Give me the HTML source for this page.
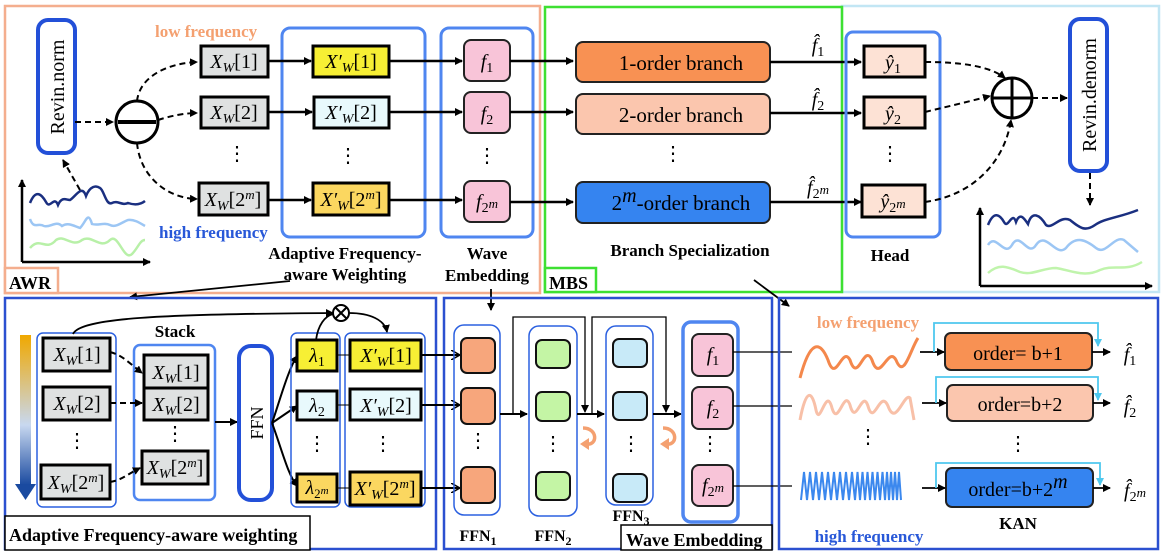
<!DOCTYPE html>
<html><head><meta charset="utf-8"><style>
html,body{margin:0;padding:0;background:#fff}
svg{display:block}
text{font-family:"Liberation Serif",serif}
.m{font-style:italic;font-size:20px}
.b{font-weight:bold}
</style></head><body>
<svg width="1163" height="554" viewBox="0 0 1163 554" xmlns="http://www.w3.org/2000/svg">
<defs>
<marker id="a" markerWidth="8" markerHeight="8" refX="7" refY="4" orient="auto" markerUnits="userSpaceOnUse"><path d="M0,0 L8,4 L0,8 Z" fill="#000"/></marker>
<marker id="ac" markerWidth="8" markerHeight="8" refX="7" refY="4" orient="auto" markerUnits="userSpaceOnUse"><path d="M0,0 L8,4 L0,8 Z" fill="#4fc8ee"/></marker>
<marker id="ao" markerWidth="10" markerHeight="10" refX="8" refY="5" orient="auto" markerUnits="userSpaceOnUse"><path d="M0,0 L9,5 L0,10" fill="none" stroke="#000" stroke-width="1.5"/></marker>
<linearGradient id="g" x1="0" y1="0" x2="0" y2="1"><stop offset="0" stop-color="#f0a800"/><stop offset="0.6" stop-color="#c8d8f0"/><stop offset="1" stop-color="#1a4aa0"/></linearGradient>
</defs>

<rect x="5" y="6" width="535" height="287" fill="none" stroke="#f4ae8e" stroke-width="2.5"/>
<rect x="5" y="268" width="53" height="25" fill="#fff" stroke="#f4ae8e" stroke-width="2.5"/>
<text x="9" y="289" class="b" font-size="18">AWR</text>
<rect x="842" y="6" width="317" height="286" fill="none" stroke="#c2e6f4" stroke-width="2.5"/>
<rect x="545" y="7" width="297" height="285" fill="none" stroke="#3ee032" stroke-width="2.5"/>
<rect x="545" y="268" width="51" height="24" fill="#fff" stroke="#3ee032" stroke-width="2.5"/>
<text x="549" y="289" class="b" font-size="18">MBS</text>

<rect x="38" y="20" width="37" height="133" rx="10" fill="#fff" stroke="#2350d8" stroke-width="4"/>
<text transform="translate(64,87) rotate(-90)" text-anchor="middle" font-size="20">Revin.norm</text>
<line x1="22" y1="262" x2="22" y2="180" stroke="#000" stroke-width="2.5" marker-end="url(#a)"/>
<line x1="22" y1="262" x2="150" y2="262" stroke="#000" stroke-width="2.5" marker-end="url(#a)"/>
<path d="M30,203 C36,188 42,195 46,202 C50,210 54,195 58,205 C62,196 66,200 70,200 C76,196 82,184 86,196 C90,186 96,185 100,188 C104,190 106,206 112,203 C118,200 122,206 128,203 C134,205 140,205 145,201" fill="none" stroke="#1a2f80" stroke-width="2.5"/>
<path d="M30,219 C34,230 38,222 44,226 C50,228 56,220 62,226 C68,222 74,226 80,228 C86,222 88,210 92,224 C98,226 104,222 110,225 C116,228 122,222 128,220 C134,219 140,223 145,226" fill="none" stroke="#9cc6f4" stroke-width="2.5"/>
<path d="M30,248 C40,236 46,252 56,240 C64,234 72,248 82,240 C92,234 100,250 110,240 C118,232 124,262 132,254 C138,248 140,240 145,240" fill="none" stroke="#b8f0a8" stroke-width="2.5"/>
<line x1="80" y1="190" x2="63" y2="160" stroke="#000" stroke-width="2" stroke-dasharray="6,4" marker-end="url(#a)"/>
<line x1="75" y1="122" x2="113" y2="122" stroke="#000" stroke-width="2" stroke-dasharray="6,4" marker-end="url(#a)"/>
<circle cx="137" cy="122" r="21" fill="#fff" stroke="#000" stroke-width="3"/>
<line x1="118" y1="122" x2="156" y2="122" stroke="#000" stroke-width="4"/>
<path d="M137,101 C140,75 170,63 197,62" fill="none" stroke="#000" stroke-width="2" stroke-dasharray="6,4" marker-end="url(#a)"/>
<path d="M158,120 C170,116 185,113 197,113" fill="none" stroke="#000" stroke-width="2" stroke-dasharray="6,4" marker-end="url(#a)"/>
<path d="M137,143 C140,175 165,198 197,199" fill="none" stroke="#000" stroke-width="2" stroke-dasharray="6,4" marker-end="url(#a)"/>
<text x="155" y="37" class="b" font-size="17" fill="#f4a070">low frequency</text>
<text x="159" y="238" class="b" font-size="17" fill="#2858d8">high frequency</text>

<g stroke="#000" stroke-width="3" fill="#dfe1e1">
<rect x="201" y="46" width="67" height="31"/>
<rect x="201" y="97" width="67" height="31"/>
<rect x="199" y="183" width="69" height="32"/>
</g>
<text x="234" y="68" text-anchor="middle" class="m"><tspan>X</tspan><tspan font-size="14" dy="4">W</tspan><tspan dy="-4" font-style="normal">[1]</tspan></text>
<text x="234" y="119" text-anchor="middle" class="m"><tspan>X</tspan><tspan font-size="14" dy="4">W</tspan><tspan dy="-4" font-style="normal">[2]</tspan></text>
<text x="233" y="206" text-anchor="middle" class="m"><tspan>X</tspan><tspan font-size="14" dy="4">W</tspan><tspan dy="-4" font-style="normal">[2</tspan><tspan font-size="13" dy="-7">m</tspan><tspan dy="7" font-style="normal">]</tspan></text>
<text x="237" y="160" text-anchor="middle" font-size="20">⋮</text>

<rect x="282" y="28" width="143" height="209" rx="8" fill="none" stroke="#4f86f0" stroke-width="3"/>
<g stroke="#000" stroke-width="3">
<rect x="313" y="46" width="76" height="31" fill="#f7ef34"/>
<rect x="314" y="97" width="75" height="31" fill="#e8f9fc"/>
<rect x="313" y="183" width="76" height="32" fill="#fbd760"/>
</g>
<text x="351" y="68" text-anchor="middle" class="m"><tspan>X′</tspan><tspan font-size="14" dy="4">W</tspan><tspan dy="-4" font-style="normal">[1]</tspan></text>
<text x="351" y="119" text-anchor="middle" class="m"><tspan>X′</tspan><tspan font-size="14" dy="4">W</tspan><tspan dy="-4" font-style="normal">[2]</tspan></text>
<text x="351" y="206" text-anchor="middle" class="m"><tspan>X′</tspan><tspan font-size="14" dy="4">W</tspan><tspan dy="-4" font-style="normal">[2</tspan><tspan font-size="13" dy="-7">m</tspan><tspan dy="7" font-style="normal">]</tspan></text>
<text x="348" y="162" text-anchor="middle" font-size="20">⋮</text>
<g stroke="#000" stroke-width="2.5" marker-end="url(#a)">
<line x1="268" y1="61" x2="311" y2="61"/>
<line x1="268" y1="112" x2="312" y2="112"/>
<line x1="268" y1="200" x2="311" y2="200"/>
</g>

<rect x="441" y="28" width="92" height="209" rx="8" fill="none" stroke="#4f86f0" stroke-width="3"/>
<g stroke="#222" stroke-width="2" fill="#f8c4d8">
<rect x="464" y="40" width="46" height="41" rx="7"/>
<rect x="464" y="92" width="46" height="41" rx="7"/>
<rect x="464" y="181" width="46" height="41" rx="7"/>
</g>
<text x="487" y="68" text-anchor="middle" class="m" font-size="22">f<tspan font-size="14" dy="4" font-style="normal">1</tspan></text>
<text x="487" y="120" text-anchor="middle" class="m" font-size="22">f<tspan font-size="14" dy="4" font-style="normal">2</tspan></text>
<text x="487" y="208" text-anchor="middle" class="m" font-size="22">f<tspan font-size="14" dy="4" font-style="normal">2</tspan><tspan font-size="13" dy="-4">m</tspan></text>
<text x="487" y="162" text-anchor="middle" font-size="20">⋮</text>
<g stroke="#000" stroke-width="2.5" marker-end="url(#a)">
<line x1="389" y1="61" x2="462" y2="61"/>
<line x1="389" y1="112" x2="462" y2="112"/>
<line x1="389" y1="200" x2="462" y2="200"/>
<line x1="510" y1="61" x2="573" y2="61"/>
<line x1="510" y1="112" x2="573" y2="112"/>
<line x1="510" y1="202" x2="573" y2="202"/>
</g>
<text x="345" y="259" text-anchor="middle" class="b" font-size="17">Adaptive Frequency-</text>
<text x="345" y="280" text-anchor="middle" class="b" font-size="17">aware Weighting</text>
<text x="487" y="259" text-anchor="middle" class="b" font-size="17">Wave</text>
<text x="487" y="281" text-anchor="middle" class="b" font-size="17">Embedding</text>

<g stroke="#222" stroke-width="2">
<rect x="576" y="42" width="194" height="40" rx="7" fill="#f89153"/>
<rect x="576" y="94" width="194" height="40" rx="7" fill="#fbc6ae"/>
<rect x="576" y="182" width="194" height="41" rx="7" fill="#3584f0"/>
</g>
<text x="681" y="70" text-anchor="middle" font-size="21">1-order branch</text>
<text x="681" y="122" text-anchor="middle" font-size="21">2-order branch</text>
<text x="681" y="210" text-anchor="middle" font-size="21">2<tspan class="m" font-size="15" dy="-8">m</tspan><tspan dy="8">-order branch</tspan></text>
<text x="673" y="160" text-anchor="middle" font-size="20">⋮</text>
<text x="818" y="52" text-anchor="middle" class="m" font-size="22">f̂<tspan font-size="14" dy="4" font-style="normal">1</tspan></text>
<text x="818" y="106" text-anchor="middle" class="m" font-size="22">f̂<tspan font-size="14" dy="4" font-style="normal">2</tspan></text>
<text x="818" y="194" text-anchor="middle" class="m" font-size="22">f̂<tspan font-size="14" dy="4" font-style="normal">2</tspan><tspan font-size="13" dy="-4">m</tspan></text>
<text x="690" y="256" text-anchor="middle" class="b" font-size="17">Branch Specialization</text>
<g stroke="#000" stroke-width="2.5" marker-end="url(#a)">
<line x1="770" y1="62" x2="861" y2="62"/>
<line x1="770" y1="113" x2="861" y2="113"/>
<line x1="770" y1="202" x2="861" y2="202"/>
</g>
<rect x="846" y="32" width="94" height="205" rx="7" fill="none" stroke="#4f86f0" stroke-width="3"/>
<g stroke="#000" stroke-width="3" fill="#fde2d5">
<rect x="864" y="46" width="61" height="31"/>
<rect x="864" y="97" width="61" height="31"/>
<rect x="862" y="185" width="63" height="32"/>
</g>
<text x="893" y="69" text-anchor="middle" class="m">ŷ<tspan font-size="14" dy="4" font-style="normal">1</tspan></text>
<text x="893" y="120" text-anchor="middle" class="m">ŷ<tspan font-size="14" dy="4" font-style="normal">2</tspan></text>
<text x="893" y="208" text-anchor="middle" class="m">ŷ<tspan font-size="14" dy="4" font-style="normal">2</tspan><tspan font-size="13" dy="-4">m</tspan></text>
<text x="890" y="160" text-anchor="middle" font-size="20">⋮</text>
<text x="890" y="261" text-anchor="middle" class="b" font-size="17">Head</text>
<circle cx="1012" cy="98" r="20" fill="#fff" stroke="#000" stroke-width="3"/>
<line x1="992" y1="98" x2="1032" y2="98" stroke="#000" stroke-width="3"/>
<line x1="1012" y1="78" x2="1012" y2="118" stroke="#000" stroke-width="3"/>
<path d="M925,62 C960,62 990,66 1005,78" fill="none" stroke="#000" stroke-width="2" stroke-dasharray="6,4" marker-end="url(#a)"/>
<path d="M925,112 C950,106 975,100 990,96" fill="none" stroke="#000" stroke-width="2" stroke-dasharray="6,4" marker-end="url(#a)"/>
<path d="M925,202 C975,195 1005,160 1011,120" fill="none" stroke="#000" stroke-width="2" stroke-dasharray="6,4" marker-end="url(#a)"/>
<line x1="1032" y1="98" x2="1067" y2="98" stroke="#000" stroke-width="2" stroke-dasharray="6,4" marker-end="url(#a)"/>
<rect x="1070" y="19" width="37" height="152" rx="10" fill="#fff" stroke="#2350d8" stroke-width="4"/>
<text transform="translate(1096,95) rotate(-90)" text-anchor="middle" font-size="20">Revin.denorm</text>
<line x1="1090" y1="173" x2="1090" y2="205" stroke="#000" stroke-width="2" stroke-dasharray="6,4" marker-end="url(#a)"/>
<line x1="980" y1="286" x2="980" y2="208" stroke="#000" stroke-width="2.5" marker-end="url(#a)"/>
<line x1="980" y1="286" x2="1152" y2="286" stroke="#000" stroke-width="2.5" marker-end="url(#a)"/>
<path d="M988,225 C994,210 1000,215 1004,222 C1008,230 1012,210 1016,222 C1020,212 1024,218 1028,224 C1032,210 1040,215 1046,225 C1052,230 1060,215 1070,220 C1080,228 1085,232 1095,225 C1105,218 1118,218 1138,210" fill="none" stroke="#1a2f80" stroke-width="2.5"/>
<path d="M988,245 C996,232 1004,258 1012,245 C1020,230 1028,258 1036,245 C1046,230 1056,258 1066,248 C1076,235 1086,240 1096,248 C1106,256 1114,235 1124,240 L1138,252" fill="none" stroke="#9cc6f4" stroke-width="2.5"/>
<path d="M988,273 C1000,262 1010,268 1020,272 C1032,276 1042,268 1056,268 C1070,270 1084,278 1100,270 C1114,264 1126,272 1142,262" fill="none" stroke="#c0f4ac" stroke-width="2.5"/>

<line x1="290" y1="281" x2="130" y2="297" stroke="#000" stroke-width="1.8" marker-end="url(#a)"/>
<line x1="491" y1="289" x2="491" y2="310" stroke="#000" stroke-width="1.8" marker-end="url(#a)"/>
<line x1="754" y1="280" x2="789" y2="306" stroke="#000" stroke-width="1.8" marker-end="url(#a)"/>

<rect x="5" y="298" width="431" height="251" fill="none" stroke="#2b50d0" stroke-width="2.5"/>
<rect x="5" y="516" width="305" height="34" fill="#fff" stroke="#000" stroke-width="1.5"/>
<text x="9" y="541" class="b" font-size="18">Adaptive Frequency-aware weighting</text>
<rect x="20" y="335" width="11" height="150" fill="url(#g)"/>
<path d="M15,484 L36,484 L25.5,500 Z" fill="#1a4aa0"/>
<rect x="37" y="333" width="79" height="174" rx="6" fill="none" stroke="#2b60e0" stroke-width="1.5"/>
<g stroke="#000" stroke-width="3" fill="#dfe1e1">
<rect x="43" y="338" width="67" height="33"/>
<rect x="43" y="387" width="67" height="33"/>
<rect x="41" y="465" width="69" height="34"/>
</g>
<text x="77" y="361" text-anchor="middle" class="m"><tspan>X</tspan><tspan font-size="14" dy="4">W</tspan><tspan dy="-4" font-style="normal">[1]</tspan></text>
<text x="77" y="410" text-anchor="middle" class="m"><tspan>X</tspan><tspan font-size="14" dy="4">W</tspan><tspan dy="-4" font-style="normal">[2]</tspan></text>
<text x="76" y="489" text-anchor="middle" class="m"><tspan>X</tspan><tspan font-size="14" dy="4">W</tspan><tspan dy="-4" font-style="normal">[2</tspan><tspan font-size="13" dy="-7">m</tspan><tspan dy="7" font-style="normal">]</tspan></text>
<text x="77" y="447" text-anchor="middle" font-size="20">⋮</text>
<text x="175" y="337" text-anchor="middle" class="b" font-size="17">Stack</text>
<rect x="134" y="345" width="81" height="155" rx="6" fill="none" stroke="#4f86f0" stroke-width="2.5"/>
<g stroke="#000" stroke-width="3" fill="#dfe1e1">
<rect x="144" y="355" width="64" height="33"/>
<rect x="144" y="388" width="64" height="32"/>
<rect x="142" y="451" width="66" height="33"/>
</g>
<text x="176" y="379" text-anchor="middle" class="m"><tspan>X</tspan><tspan font-size="14" dy="4">W</tspan><tspan dy="-4" font-style="normal">[1]</tspan></text>
<text x="176" y="411" text-anchor="middle" class="m"><tspan>X</tspan><tspan font-size="14" dy="4">W</tspan><tspan dy="-4" font-style="normal">[2]</tspan></text>
<text x="175" y="474" text-anchor="middle" class="m"><tspan>X</tspan><tspan font-size="14" dy="4">W</tspan><tspan dy="-4" font-style="normal">[2</tspan><tspan font-size="13" dy="-7">m</tspan><tspan dy="7" font-style="normal">]</tspan></text>
<text x="175" y="440" text-anchor="middle" font-size="20">⋮</text>
<g stroke="#000" stroke-width="2" stroke-dasharray="6,4" fill="none" marker-end="url(#a)">
<path d="M110,352 C122,355 128,362 142,373"/>
<line x1="110" y1="403" x2="142" y2="403"/>
<path d="M110,482 C122,480 126,475 140,468"/>
</g>
<line x1="215" y1="422" x2="237" y2="422" stroke="#000" stroke-width="2" marker-end="url(#a)"/>
<rect x="239" y="346" width="33" height="154" rx="12" fill="#fff" stroke="#2350d8" stroke-width="4"/>
<text transform="translate(263,423) rotate(-90)" text-anchor="middle" font-size="18">FFN</text>
<g stroke="#000" stroke-width="2" marker-end="url(#a)" fill="none">
<path d="M272,423 C280,400 288,370 297,356"/>
<line x1="272" y1="423" x2="297" y2="406"/>
<path d="M272,423 C282,450 288,475 297,486"/>
</g>
<rect x="291" y="333" width="49" height="174" rx="6" fill="none" stroke="#2b60e0" stroke-width="1.5"/>
<rect x="345" y="333" width="80" height="174" rx="6" fill="none" stroke="#2b60e0" stroke-width="1.5"/>
<g stroke="#000" stroke-width="3">
<rect x="297" y="340" width="40" height="31" fill="#f7ef34"/>
<rect x="297" y="391" width="40" height="29" fill="#e8f9fc"/>
<rect x="297" y="474" width="40" height="28" fill="#fbd760"/>
<rect x="350" y="340" width="71" height="31" fill="#f7ef34"/>
<rect x="350" y="389" width="71" height="31" fill="#e8f9fc"/>
<rect x="350" y="472" width="71" height="33" fill="#fbd760"/>
</g>
<text x="317" y="362" text-anchor="middle" class="m">λ<tspan font-size="14" dy="4" font-style="normal">1</tspan></text>
<text x="317" y="412" text-anchor="middle" class="m">λ<tspan font-size="14" dy="4" font-style="normal">2</tspan></text>
<text x="317" y="494" text-anchor="middle" class="m">λ<tspan font-size="13" dy="4" font-style="normal">2</tspan><tspan font-size="11" dy="-4">m</tspan></text>
<text x="317" y="450" text-anchor="middle" font-size="20">⋮</text>
<text x="386" y="362" text-anchor="middle" class="m"><tspan>X′</tspan><tspan font-size="14" dy="4">W</tspan><tspan dy="-4" font-style="normal">[1]</tspan></text>
<text x="386" y="412" text-anchor="middle" class="m"><tspan>X′</tspan><tspan font-size="14" dy="4">W</tspan><tspan dy="-4" font-style="normal">[2]</tspan></text>
<text x="385" y="495" text-anchor="middle" class="m"><tspan>X′</tspan><tspan font-size="14" dy="4">W</tspan><tspan dy="-4" font-style="normal">[2</tspan><tspan font-size="13" dy="-7">m</tspan><tspan dy="7" font-style="normal">]</tspan></text>
<text x="383" y="450" text-anchor="middle" font-size="20">⋮</text>
<g stroke="#000" stroke-width="1"><line x1="337" y1="355" x2="350" y2="355"/><line x1="337" y1="405" x2="350" y2="405"/><line x1="337" y1="488" x2="350" y2="488"/></g>
<circle cx="341" cy="313" r="8" fill="#fff" stroke="#000" stroke-width="2"/>
<line x1="335" y1="307" x2="347" y2="319" stroke="#000" stroke-width="2"/>
<line x1="347" y1="307" x2="335" y2="319" stroke="#000" stroke-width="2"/>
<path d="M73,334 C80,318 160,314 333,313" fill="none" stroke="#000" stroke-width="1.8" marker-end="url(#a)"/>
<path d="M316,340 C318,325 325,316 333,314" fill="none" stroke="#000" stroke-width="1.8"/>
<path d="M349,313 C370,313 385,320 387,332" fill="none" stroke="#000" stroke-width="1.8" marker-end="url(#a)"/>

<rect x="444" y="298" width="328" height="251" fill="none" stroke="#2b50d0" stroke-width="2.5"/>
<rect x="621" y="525" width="151" height="25" fill="#fff" stroke="#000" stroke-width="1.5"/>
<text x="626" y="546" class="b" font-size="18">Wave Embedding</text>
<g stroke="#000" stroke-width="2" fill="none" marker-end="url(#ao)">
<line x1="421" y1="355" x2="459" y2="355"/>
<line x1="421" y1="405" x2="459" y2="405"/>
<line x1="421" y1="488" x2="459" y2="488"/>
</g>
<rect x="454" y="325" width="46" height="190" rx="10" fill="none" stroke="#2b60e0" stroke-width="1.5"/>
<rect x="529" y="326" width="48" height="190" rx="10" fill="none" stroke="#2b60e0" stroke-width="1.5"/>
<rect x="606" y="326" width="47" height="179" rx="10" fill="none" stroke="#2b60e0" stroke-width="1.5"/>
<g stroke="#111" stroke-width="2">
<rect x="461" y="338" width="34" height="35" rx="6" fill="#f7a67c"/>
<rect x="461" y="388" width="34" height="36" rx="6" fill="#f7a67c"/>
<rect x="461" y="467" width="34" height="36" rx="6" fill="#f7a67c"/>
<rect x="536" y="340" width="34" height="28" rx="6" fill="#c4f5a5"/>
<rect x="536" y="392" width="34" height="29" rx="6" fill="#c4f5a5"/>
<rect x="536" y="472" width="34" height="28" rx="6" fill="#c4f5a5"/>
<rect x="613" y="339" width="34" height="28" rx="6" fill="#c8eaf8"/>
<rect x="613" y="392" width="34" height="28" rx="6" fill="#c8eaf8"/>
<rect x="613" y="474" width="34" height="28" rx="6" fill="#c8eaf8"/>
</g>
<text x="478" y="447" text-anchor="middle" font-size="20">⋮</text>
<text x="553" y="450" text-anchor="middle" font-size="20">⋮</text>
<text x="631" y="450" text-anchor="middle" font-size="20">⋮</text>
<g stroke="#000" stroke-width="2" fill="none">
<line x1="500" y1="414" x2="527" y2="414" marker-end="url(#a)"/>
<line x1="577" y1="414" x2="604" y2="414" marker-end="url(#a)"/>
<line x1="653" y1="414" x2="681" y2="414" marker-end="url(#a)"/>
</g>
<g stroke="#000" stroke-width="1.3" fill="none">
<polyline points="513,414 513,317 585,317 585,412" marker-end="url(#a)"/>
<polyline points="592,414 592,317 666,317 666,412" marker-end="url(#a)"/>
</g>
<path d="M583,428 C598,428 598,446 586,444" fill="none" stroke="#f4a070" stroke-width="3.5"/>
<path d="M580,444 L589,438 L589,450 Z" fill="#f4a070"/>
<path d="M663,428 C678,428 678,446 666,444" fill="none" stroke="#f4a070" stroke-width="3.5"/>
<path d="M660,444 L669,438 L669,450 Z" fill="#f4a070"/>
<text x="478" y="541" text-anchor="middle" class="b" font-size="16">FFN<tspan font-size="12" dy="4">1</tspan></text>
<text x="553" y="541" text-anchor="middle" class="b" font-size="16">FFN<tspan font-size="12" dy="4">2</tspan></text>
<text x="631" y="521" text-anchor="middle" class="b" font-size="16">FFN<tspan font-size="12" dy="4">3</tspan></text>
<rect x="683" y="322" width="55" height="200" rx="8" fill="none" stroke="#4f86f0" stroke-width="3.5"/>
<g stroke="#222" stroke-width="2" fill="#f8c4d8">
<rect x="692" y="334" width="41" height="42" rx="7"/>
<rect x="692" y="387" width="41" height="42" rx="7"/>
<rect x="692" y="465" width="41" height="41" rx="7"/>
</g>
<text x="713" y="361" text-anchor="middle" class="m" font-size="22">f<tspan font-size="14" dy="4" font-style="normal">1</tspan></text>
<text x="713" y="414" text-anchor="middle" class="m" font-size="22">f<tspan font-size="14" dy="4" font-style="normal">2</tspan></text>
<text x="713" y="492" text-anchor="middle" class="m" font-size="22">f<tspan font-size="14" dy="4" font-style="normal">2</tspan><tspan font-size="13" dy="-4">m</tspan></text>
<text x="710" y="450" text-anchor="middle" font-size="20">⋮</text>
<g stroke="#000" stroke-width="1.2"><line x1="733" y1="352" x2="792" y2="352"/><line x1="733" y1="406" x2="792" y2="406"/><line x1="733" y1="486" x2="792" y2="486"/></g>

<rect x="779" y="298" width="379" height="251" fill="none" stroke="#2b50d0" stroke-width="2.5"/>
<text x="868" y="328" text-anchor="middle" class="b" font-size="17" fill="#f4a070">low frequency</text>
<text x="869" y="542" text-anchor="middle" class="b" font-size="17" fill="#2858d8">high frequency</text>
<path d="M800,378 C810,340 820,340 828,360 C836,385 842,345 850,360 C858,385 864,342 872,360 C880,385 888,345 896,360 C904,380 910,350 918,338" fill="none" stroke="#f4884c" stroke-width="3"/>
<path d="M800,420 C806,388 812,390 816,410 C820,428 826,385 832,408 C838,428 844,388 850,405 C856,428 862,388 868,406 C874,428 880,388 888,406 C896,428 904,392 910,398 L914,420" fill="none" stroke="#f8c0a8" stroke-width="3"/>
<path d="M801,500 l3,-28 l3,28 l3,-28 l3,28 l3,-28 l3,28 l3,-28 l3,28 l3,-28 l3,28 l3,-28 l3,28 l3,-28 l3,28 l3,-28 l3,28 l3,-28 l3,28 l2.5,-28 l2.5,28 l2.5,-28 l2.5,28 l2.5,-28 l2.5,28 l2.5,-28 l2.5,28 l2.5,-28 l2.5,28 l2.5,-28 l2.5,28 l2,-28 l2,28 l2,-28 l2,28 l2,-28 l2,28 l2,-28 l2,28" fill="none" stroke="#3b88ee" stroke-width="2"/>
<text x="868" y="443" text-anchor="middle" font-size="20">⋮</text>
<text x="1018" y="450" text-anchor="middle" font-size="20">⋮</text>
<g stroke="#222" stroke-width="2">
<rect x="945" y="333" width="147" height="37" rx="6" fill="#f89153"/>
<rect x="947" y="385" width="146" height="36" rx="6" fill="#fbc6ae"/>
<rect x="946" y="468" width="147" height="39" rx="6" fill="#3584f0"/>
</g>
<text x="1018" y="360" text-anchor="middle" font-size="20">order= b+1</text>
<text x="1020" y="411" text-anchor="middle" font-size="20">order=b+2</text>
<text x="1018" y="496" text-anchor="middle" font-size="20">order=b+2<tspan class="m" font-size="14" dy="-8">m</tspan></text>
<g stroke="#000" stroke-width="1.8" marker-end="url(#a)">
<line x1="920" y1="352" x2="944" y2="352"/>
<line x1="922" y1="403" x2="946" y2="403"/>
<line x1="922" y1="488" x2="945" y2="488"/>
<line x1="1092" y1="352" x2="1110" y2="352"/>
<line x1="1093" y1="403" x2="1110" y2="403"/>
<line x1="1093" y1="488" x2="1110" y2="488"/>
</g>
<g stroke="#4fc8ee" stroke-width="1.8" fill="none" marker-end="url(#ac)">
<polyline points="934,352 934,323 1098,323 1098,346"/>
<polyline points="936,403 936,377 1098,377 1098,400"/>
<polyline points="936,488 936,463 1100,463 1100,485"/>
</g>
<text x="1130" y="361" text-anchor="middle" class="m" font-size="22">f̂<tspan font-size="14" dy="4" font-style="normal">1</tspan></text>
<text x="1130" y="413" text-anchor="middle" class="m" font-size="22">f̂<tspan font-size="14" dy="4" font-style="normal">2</tspan></text>
<text x="1135" y="497" text-anchor="middle" class="m" font-size="22">f̂<tspan font-size="14" dy="4" font-style="normal">2</tspan><tspan font-size="13" dy="-4">m</tspan></text>
<text x="1018" y="529" text-anchor="middle" class="b" font-size="17">KAN</text>
</svg>
</body></html>
